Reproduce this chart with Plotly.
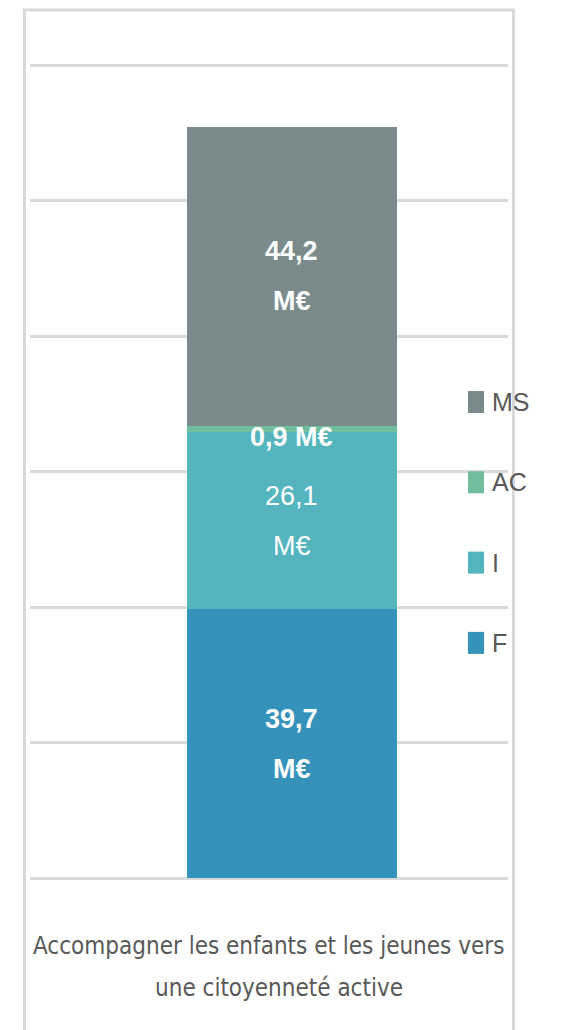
import plotly.graph_objects as go

category = "Accompagner les enfants et les jeunes vers une citoyenneté active"
category_lines = ["Accompagner les enfants et les jeunes vers", "une citoyenneté active"]
series = ["F", "I", "AC", "MS"]
values = [39.7, 26.1, 0.9, 44.2]
colors = ["#3592ba", "#55b5bf", "#70be9e", "#7b8b8c"]
label_bold = [True, False, True, True]
label_split = [True, True, False, True]
legend_order = ["MS", "AC", "I", "F"]

TITLE_FONT = "DejaVu Sans Condensed"
FONT = "Liberation Sans"
OFF = 8  # default page margin around the figure
W, H = 562, 1022
L, R, T, B = 22, 62, 55, 152

fig = go.Figure()
for name, v, c in zip(series, values, colors):
    fig.add_trace(go.Bar(
        x=[category], y=[v], name=name, marker=dict(color=c, line=dict(width=0)),
        width=1, hoverinfo="name+y", showlegend=False,
    ))

def fmt(v):
    return f"{v:.1f}".replace(".", ",")

cum = 0
for name, v, bold, split in zip(series, values, label_bold, label_split):
    mid = cum + v / 2
    cum += v
    num = fmt(v)
    wrap = (lambda s: f"<b>{s}</b>") if bold else (lambda s: s)
    if split:
        for txt, dy in ((num, 25), ("M€", -25)):
            fig.add_annotation(x=category, y=mid, xref="x", yref="y", text=wrap(txt),
                               showarrow=False, yshift=dy,
                               font=dict(family=FONT, size=27, color="white"))
    else:
        fig.add_annotation(x=category, y=mid, xref="x", yref="y", text=wrap(num + " M€"),
                           showarrow=False, yshift=-8,
                           font=dict(family=FONT, size=27, color="white"))

pw = W - L - R
ph = H - T - B
def px_x(px):
    return (px - OFF - L) / pw
def px_y(py):
    return (H - B - (py - OFF)) / ph

# category label
for line, cx, py in zip(category_lines, [268, 279], [946, 988]):
    fig.add_annotation(x=px_x(cx), y=px_y(py), xref="paper", yref="paper", text=line,
                       showarrow=False, xanchor="center", yanchor="middle",
                       font=dict(family=TITLE_FONT, size=24, color="#595959"))

# legend (swatch + label), ordered top to bottom
color_of = dict(zip(series, colors))
for i, name in enumerate(legend_order):
    cy = 402 + i * 80.3
    fig.add_shape(type="rect", xref="paper", yref="paper",
                  x0=px_x(468), x1=px_x(484), y0=px_y(cy + 11), y1=px_y(cy - 11),
                  fillcolor=color_of[name], line=dict(width=0))
    fig.add_annotation(x=px_x(490), y=px_y(cy), xref="paper", yref="paper", text=name,
                       showarrow=False, xanchor="left", yanchor="middle",
                       font=dict(family=FONT, size=25, color="#595959"))

# outer frame
fig.add_shape(type="rect", xref="paper", yref="paper",
              x0=px_x(24.5), x1=px_x(513.5), y0=px_y(1045), y1=px_y(10),
              line=dict(color="#d9d9d9", width=3), fillcolor="rgba(0,0,0,0)", layer="below")

fig.update_layout(
    width=W, height=H,
    margin=dict(l=L, r=R, t=T, b=B, autoexpand=False),
    paper_bgcolor="white", plot_bgcolor="white",
    barmode="stack", bargap=0,
    showlegend=False,
    xaxis=dict(type="category", range=[-1.2476, 1.0286], showticklabels=False,
               showgrid=False, zeroline=False, showline=False, fixedrange=True),
    yaxis=dict(range=[0, 120.3], dtick=20, showticklabels=False, showgrid=True,
               gridcolor="#d9d9d9", gridwidth=3, zeroline=True, zerolinecolor="#d9d9d9",
               zerolinewidth=3, showline=False, fixedrange=True),
)

fig.write_html("out.html")
